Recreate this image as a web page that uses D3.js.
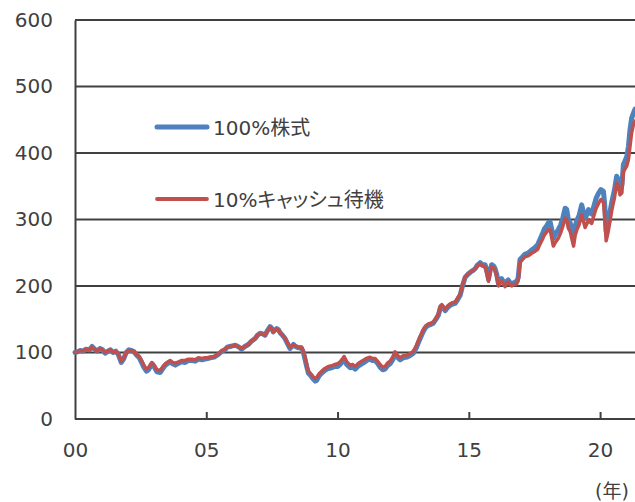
<!DOCTYPE html>
<html><head><meta charset="utf-8">
<script src="https://cdn.jsdelivr.net/npm/d3@7"></script>
<style>
html,body{margin:0;padding:0;background:#fff;}
svg{display:block;}
text{font-family:"DejaVu Sans","Noto Sans CJK JP",sans-serif;fill:#404040;}
.jp{font-feature-settings:"palt";}
</style></head>
<body>
<script>
// years elapsed since Jan 2000
const years = [0.00,0.10,0.20,0.30,0.42,0.55,0.65,0.75,0.84,0.95,1.05,1.15,1.25,1.35,1.45,1.55,1.65,1.76,1.85,1.95,
2.05,2.15,2.25,2.35,2.45,2.55,2.62,2.72,2.80,2.93,3.02,3.12,3.25,3.35,3.44,3.55,3.63,3.72,3.82,3.95,
4.07,4.20,4.32,4.46,4.58,4.70,4.84,4.95,5.05,5.15,5.30,5.46,5.60,5.71,5.80,5.90,6.00,6.10,6.16,6.25,
6.35,6.47,6.60,6.72,6.86,6.95,7.05,7.15,7.24,7.33,7.43,7.50,7.55,7.62,7.68,7.75,7.81,7.90,8.00,8.10,
8.19,8.26,8.32,8.40,8.50,8.62,8.70,8.76,8.83,8.89,9.00,9.08,9.15,9.20,9.30,9.40,9.52,9.65,9.78,9.90,
10.00,10.10,10.18,10.25,10.35,10.48,10.58,10.67,10.80,10.92,11.05,11.15,11.24,11.33,11.43,11.52,11.62,11.72,11.81,11.90,
12.00,12.10,12.19,12.28,12.38,12.50,12.64,12.75,12.89,13.00,13.08,13.18,13.27,13.36,13.46,13.55,13.65,13.75,13.84,13.92,
13.97,14.05,14.10,14.20,14.29,14.38,14.48,14.58,14.67,14.76,14.86,14.98,15.10,15.18,15.24,15.32,15.43,15.52,15.62,15.70,
15.75,15.82,15.87,15.95,16.00,16.06,16.13,16.20,16.25,16.32,16.38,16.44,16.50,16.57,16.63,16.72,16.82,16.88,16.95,17.05,
17.14,17.23,17.33,17.42,17.52,17.62,17.71,17.80,17.88,17.96,18.03,18.10,18.16,18.22,18.30,18.41,18.50,18.58,18.67,18.73,
18.79,18.86,18.93,18.99,19.05,19.11,19.20,19.30,19.36,19.43,19.50,19.56,19.62,19.68,19.75,19.85,19.95,20.03,20.13,20.18,
20.23,20.30,20.38,20.45,20.55,20.63,20.70,20.76,20.83,20.89,20.95,21.02,21.08,21.14,21.20,21.27,21.33];

// 100% stocks
const stock100 = [100,101,103,102,105,104,109,105,102,106,104,99,102,104,100,102,97,85,90,100,
104,103,101,96,92,84,78,72,74,83,78,71,70,76,81,84,86,83,81,84,
86,85,88,88,87,90,89,90,91,92,93,97,102,104,108,109,110,111,110,108,
105,109,112,117,121,126,129,128,126,133,139,136,131,134,136,134,130,126,121,113,
106,109,112,109,107,107,100,90,78,69,64,60,57,58,65,69,73,76,77,79,
79,82,86,89,82,77,78,75,80,83,86,89,90,88,88,84,78,74,75,80,
83,89,97,93,89,92,93,95,99,107,115,124,132,138,141,142,144,150,156,168,
170,166,163,168,171,173,174,180,186,200,213,218,222,224,226,231,235,232,232,220,
210,225,232,230,226,218,203,208,211,206,202,207,209,205,203,205,207,212,240,244,
248,249,252,255,258,262,270,278,286,290,295,296,285,272,278,285,292,302,317,315,
300,295,285,277,290,298,306,322,312,302,308,315,310,308,318,332,340,345,342,320,
282,292,312,327,345,365,360,348,352,383,388,395,410,435,452,460,466];

// 10% cash on standby
const cash10 = [100,101,103,102,105,104,108,105,102,106,104,100,102,104,100,102,98,87,91,100,
103,103,101,97,94,87,81,75,77,85,81,74,73,79,83,86,88,85,84,86,
88,88,90,90,89,92,91,92,92,93,94,98,103,105,108,109,110,111,110,108,
106,109,112,117,121,126,128,128,126,132,138,135,131,134,135,134,130,126,122,114,
108,110,112,110,108,108,102,93,81,72,67,63,61,62,68,72,76,79,80,82,
83,86,90,94,86,81,82,79,84,87,90,92,93,91,91,87,82,78,79,84,
87,93,101,96,92,95,96,98,102,110,118,127,135,140,143,144,146,152,158,170,
172,168,165,170,173,175,176,182,188,202,214,219,222,224,226,230,233,230,229,217,
207,222,229,227,223,215,200,205,208,203,199,204,206,202,200,202,203,208,236,240,
244,245,247,250,252,255,263,270,277,281,285,284,272,260,266,272,280,290,302,300,
287,282,270,260,276,284,292,307,298,288,294,300,296,294,304,317,325,330,326,302,
268,280,298,315,333,355,350,337,340,372,376,381,390,410,430,443,448];

const yTicks = [0,100,200,300,400,500,600];
const xTicks = [0,5,10,15,20];
const xTickLabels = ["00","05","10","15","20"];
const seriesNames = ["100%株式","10%キャッシュ待機"];
const unitLabel = "(年)";

const W = 635, H = 502;
const svg = d3.select("body").append("svg").attr("width", W).attr("height", H);

const x = d3.scaleLinear().domain([0, 21.33]).range([75, 635]);
const y = d3.scaleLinear().domain([0, 600]).range([419, 20]);

const gridColor = "#404040";

// horizontal gridlines
svg.append("g").selectAll("line").data(yTicks.filter(d => d > 0)).join("line")
  .attr("x1", x(0)).attr("x2", W)
  .attr("y1", d => y(d)).attr("y2", d => y(d))
  .attr("stroke", gridColor).attr("stroke-width", 2);

// y axis
const yAxis = d3.axisLeft(y).tickValues(yTicks).tickSize(0).tickPadding(22).tickFormat(d3.format("d"));
const gy = svg.append("g").attr("transform", `translate(${x(0)},0)`).call(yAxis);
gy.select(".domain").attr("stroke", gridColor).attr("stroke-width", 2);
gy.selectAll("text").attr("font-size", 20).attr("fill", "#404040")
  .style("font-family", '"DejaVu Sans",sans-serif');

// x axis with inward ticks
const xAxis = d3.axisBottom(x).tickValues(xTicks).tickSize(0).tickPadding(24)
  .tickFormat((d, i) => xTickLabels[i]);
const gx = svg.append("g").attr("transform", `translate(0,${y(0)})`).call(xAxis);
gx.select(".domain").attr("d", `M${x(0)},0H${W}`).attr("stroke", gridColor).attr("stroke-width", 2);
gx.selectAll(".tick").filter(d => d > 0).append("line")
  .attr("y1", 0).attr("y2", -7).attr("stroke", gridColor).attr("stroke-width", 2);
gx.selectAll("text").attr("font-size", 20).attr("fill", "#404040")
  .style("font-family", '"DejaVu Sans",sans-serif');

// series lines
const line = (vals) => d3.line().x((d, i) => x(years[i])).y(d => y(d)).curve(d3.curveLinear)(vals);
svg.append("path").attr("d", line(stock100)).attr("fill", "none")
  .attr("stroke", "#4F81BD").attr("stroke-width", 5).attr("stroke-linejoin", "round").attr("stroke-linecap", "round");
svg.append("path").attr("d", line(cash10)).attr("fill", "none")
  .attr("stroke", "#C0504D").attr("stroke-width", 3.5).attr("stroke-linejoin", "round").attr("stroke-linecap", "round");

// legend
const legend = [
  {name: seriesNames[0], color: "#4F81BD", w: 5, yy: 127},
  {name: seriesNames[1], color: "#C0504D", w: 3.8, yy: 199}
];
const lg = svg.append("g");
legend.forEach(l => {
  lg.append("line").attr("x1", 157).attr("x2", 207).attr("y1", l.yy).attr("y2", l.yy)
    .attr("stroke", l.color).attr("stroke-width", l.w).attr("stroke-linecap", "round");
  lg.append("text").attr("class", "jp").attr("x", 213).attr("y", l.yy + 8)
    .attr("font-size", 20).text(l.name);
});

// unit label
svg.append("text").attr("class", "jp").attr("x", 595).attr("y", 498).attr("font-size", 19).text(unitLabel);
</script>
</body></html>
